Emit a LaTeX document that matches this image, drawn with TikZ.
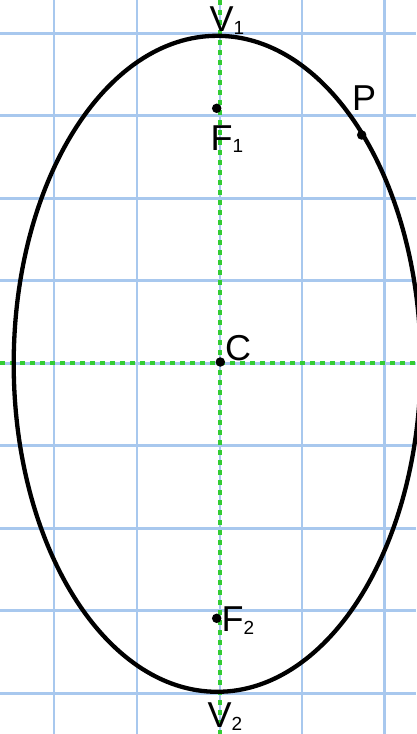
\documentclass[tikz,border=0pt]{standalone}
\usepackage{fontspec}
\setmainfont{Liberation Sans}
\newcommand\lowsub[1]{\raisebox{-2.5pt}{\fontsize{19}{19}\selectfont #1}}
\begin{document}
\begin{tikzpicture}[x=1pt,y=-1pt,
  gridline/.style={draw={rgb,255:red,168;green,200;blue,238}},
  axisline/.style={draw={rgb,255:red,51;green,204;blue,51}, line width=4pt, dash pattern=on 4.5pt off 5.5pt},
  curve/.style={draw=black, line width=4.3pt},
  dot/.style={circle, fill=black, inner sep=0pt, minimum size=9.5pt},
  lbl/.style={inner sep=0pt, anchor=base west, font=\fontsize{36}{36}\selectfont}]
\useasboundingbox (0,0) rectangle (416,734);
\fill[white] (0,0) rectangle (416,734);
% grid
\foreach \x in {54.3,137,219.6,302,384.5}
  \draw[gridline, line width=2.2pt] (\x,0) -- (\x,734);
\foreach \y in {33.3,115.8,198.3,280.8,363.3,445.8,528.3,610.8,693.3}
  \draw[gridline, line width=3pt] (0,\y) -- (416,\y);
% axes
\coordinate (axL) at (0,363);
\coordinate (axR) at (416,363);
\coordinate (axT) at (220,0);
\coordinate (axB) at (220,734);
\draw[axisline, dash phase=0pt] (axL) -- (axR);
\draw[axisline] (axT) -- (axB);
% ellipse
\coordinate (O) at (217.2,363.8);
\draw[curve] (O) ellipse [x radius=203.5, y radius=328];
% points
\node[dot] (F1) at (216.7,108.3) {};
\node[dot] (F2) at (216.7,618.3) {};
\node[dot] (C) at (220.3,362) {};
\node[dot] (P) at (361.7,135) {};
% labels
\node[lbl] (V1l) at (209.5,31.7) {V\lowsub{1}};
\node[lbl] (F1l) at (210.5,150) {F\lowsub{1}};
\node[lbl] (Pl) at (352,110) {P};
\node[lbl] (Cl) at (225,360) {C};
\node[lbl] (F2l) at (221.5,631.7) {F\lowsub{2}};
\node[lbl] (V2l) at (207.5,727.8) {V\lowsub{2}};
\end{tikzpicture}
\end{document}
